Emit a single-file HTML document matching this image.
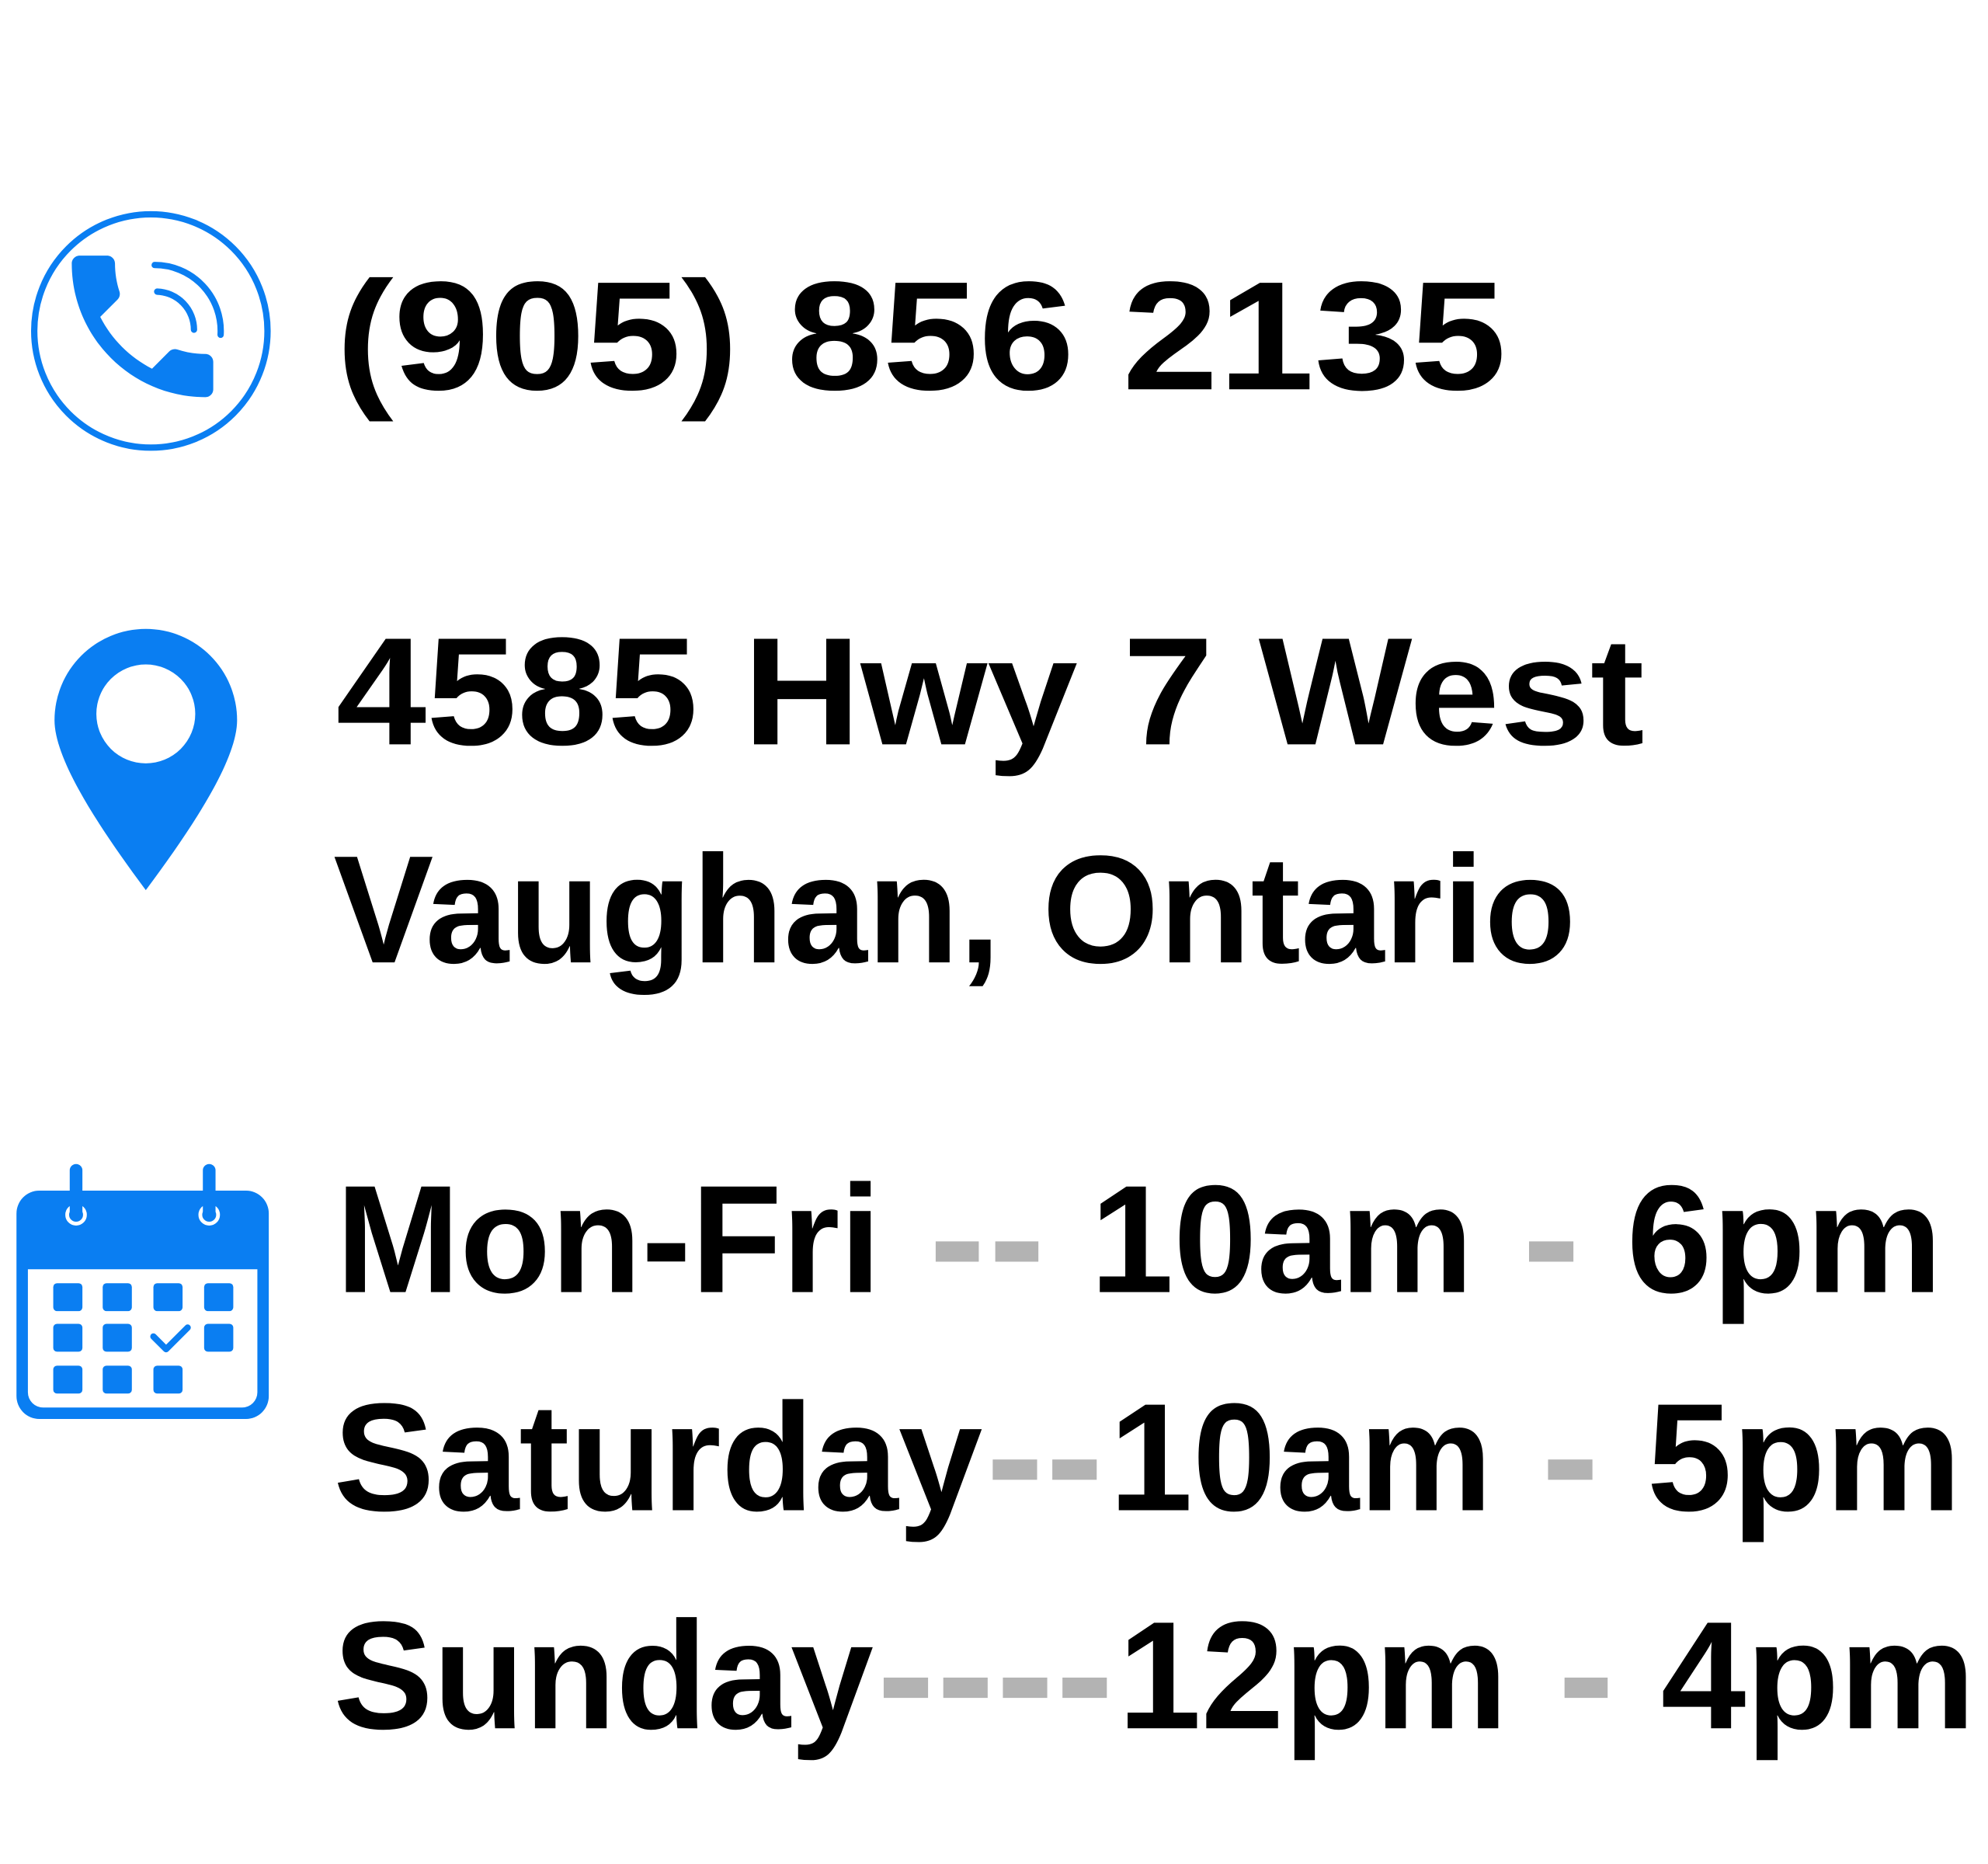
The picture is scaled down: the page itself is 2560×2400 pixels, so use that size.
<!DOCTYPE html>
<html><head><meta charset="utf-8"><style>
html,body{margin:0;padding:0;background:#fff;width:2560px;height:2400px;overflow:hidden}
svg{display:block}
text{font-family:"Liberation Sans",Arial,sans-serif;font-weight:bold;fill:#000}
</style></head><body>
<svg width="2560" height="2400" viewBox="0 0 1568 1470" xmlns="http://www.w3.org/2000/svg">
<rect width="1568" height="1470" fill="#fff"/>
<!-- phone icon -->
<circle cx="119" cy="261" r="92" fill="none" stroke="#0a7ef2" stroke-width="5"/>
<g transform="translate(38,183) scale(6.2)">
<path fill="#0a7ef2" d="M6.62 10.79c1.44 2.83 3.76 5.14 6.59 6.59l2.2-2.2c.27-.27.67-.36 1.02-.24 1.12.37 2.33.57 3.57.57.55 0 1 .45 1 1V20c0 .55-.45 1-1 1-9.39 0-17-7.61-17-17 0-.55.45-1 1-1h3.5c.55 0 1 .45 1 1 0 1.25.2 2.45.57 3.57.11.35.03.74-.25 1.02l-2.2 2.2z"/>
</g>
<path d="M122,209 A52,52 0 0 1 174,264" fill="none" stroke="#0a7ef2" stroke-width="5" stroke-linecap="round"/>
<path d="M124,230 A30,30 0 0 1 153,260" fill="none" stroke="#0a7ef2" stroke-width="5" stroke-linecap="round"/>
<text x="265" y="307" font-size="122" textLength="923" lengthAdjust="spacingAndGlyphs">(905) 856 2135</text>

<!-- pin -->
<path fill="#0a7ef2" d="M115,702 C80,655 43,600 43,568 A72,72 0 1 1 187,568 C187,600 150,655 115,702 Z"/>
<circle cx="115" cy="563" r="39" fill="#fff"/>
<text x="265" y="587" font-size="121" textLength="1032" lengthAdjust="spacingAndGlyphs">4585 Hwy 7 West</text>
<text x="263" y="759" font-size="121" textLength="980" lengthAdjust="spacingAndGlyphs">Vaughan, Ontario</text>

<!-- calendar -->
<rect x="13" y="939" width="199" height="180" rx="18" fill="#0a7ef2"/>
<path d="M22,1001 H203 V1098 a12,12 0 0 1 -12,12 H34 a12,12 0 0 1 -12,-12 Z" fill="#fff"/>
<rect x="55" y="918" width="10" height="42" rx="5" fill="#0a7ef2"/>
<rect x="160" y="918" width="10" height="42" rx="5" fill="#0a7ef2"/>
<circle cx="60" cy="958" r="7" fill="none" stroke="#fff" stroke-width="3"/>
<circle cx="165" cy="958" r="7" fill="none" stroke="#fff" stroke-width="3"/>
<rect x="55" y="940" width="10" height="18" fill="#0a7ef2"/>
<rect x="160" y="940" width="10" height="18" fill="#0a7ef2"/>
<g fill="#0a7ef2">
<rect x="42" y="1012" width="23" height="22" rx="3"/><rect x="81" y="1012" width="23" height="22" rx="3"/><rect x="121" y="1012" width="23" height="22" rx="3"/><rect x="161" y="1012" width="23" height="22" rx="3"/>
<rect x="42" y="1044" width="23" height="22" rx="3"/><rect x="81" y="1044" width="23" height="22" rx="3"/><rect x="161" y="1044" width="23" height="22" rx="3"/>
<rect x="42" y="1077" width="23" height="22" rx="3"/><rect x="81" y="1077" width="23" height="22" rx="3"/><rect x="121" y="1077" width="23" height="22" rx="3"/>
</g>
<polyline points="121,1054 131,1064 148,1047" fill="none" stroke="#0a7ef2" stroke-width="5" stroke-linecap="round" stroke-linejoin="round"/>

<!-- hours -->
<g fill="#b3b3b3">
<rect x="738" y="979" width="34" height="16"/><rect x="785" y="979" width="34" height="16"/><rect x="1206" y="979" width="35" height="16"/>
<rect x="783" y="1151" width="35" height="16"/><rect x="830" y="1151" width="35" height="16"/><rect x="1221" y="1151" width="35" height="16"/>
<rect x="697" y="1323" width="35" height="16"/><rect x="744" y="1323" width="35" height="16"/><rect x="791" y="1323" width="35" height="16"/><rect x="838" y="1323" width="35" height="16"/><rect x="1234" y="1323" width="34" height="16"/>
</g>
<text x="265" y="1019" font-size="121" textLength="430" lengthAdjust="spacingAndGlyphs">Mon-Fri</text>
<text x="860" y="1019" font-size="121" textLength="302" lengthAdjust="spacingAndGlyphs">10am</text>
<text x="1283" y="1019" font-size="121" textLength="249" lengthAdjust="spacingAndGlyphs">6pm</text>
<text x="263" y="1191" font-size="121" textLength="512" lengthAdjust="spacingAndGlyphs">Saturday</text>
<text x="875" y="1191" font-size="121" textLength="302" lengthAdjust="spacingAndGlyphs">10am</text>
<text x="1299" y="1191" font-size="121" textLength="248" lengthAdjust="spacingAndGlyphs">5pm</text>
<text x="263" y="1363" font-size="121" textLength="426" lengthAdjust="spacingAndGlyphs">Sunday</text>
<text x="882" y="1363" font-size="121" textLength="307" lengthAdjust="spacingAndGlyphs">12pm</text>
<text x="1310" y="1363" font-size="121" textLength="248" lengthAdjust="spacingAndGlyphs">4pm</text>
</svg>
</body></html>
